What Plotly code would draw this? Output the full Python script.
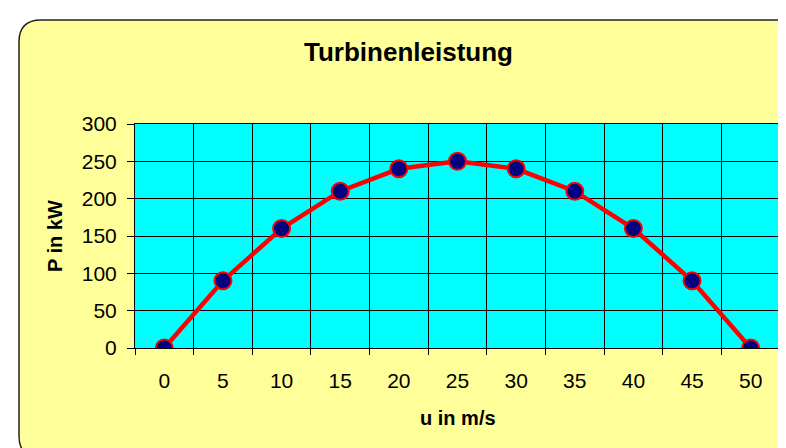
import plotly.graph_objects as go

# ---- data ----
u_values = [0, 5, 10, 15, 20, 25, 30, 35, 40, 45, 50]
p_values = [0, 90, 160, 210, 240, 250, 240, 210, 160, 90, 0]
y_ticks = [0, 50, 100, 150, 200, 250, 300]
title_text = "Turbinenleistung"
x_title = "u in m/s"
y_title = "P in kW"

# ---- layout geometry (pixels) ----
W, H = 786, 448
L, R, T, B = 127, 772, 116, 340

def px(x):
    return (x - L) / (R - L)

def py(y):
    return (B - y) / (B - T)

FONT = "Arial, Liberation Sans, sans-serif"

fig = go.Figure()
fig.add_trace(go.Scatter(
    x=u_values, y=p_values, mode="lines+markers",
    line=dict(color="#FF0000", width=4.5),
    marker=dict(size=17, color="#000080", line=dict(color="#FF0000", width=2)),
    hoverinfo="x+y", showlegend=False,
))

# rounded border rect
x0, y0, x1, y1, r = 11, 12, 790, 450, 22
pts = [
    ("M", x0 + r, y0), ("L", x1 - r, y0), ("Q", x1, y0, x1, y0 + r),
    ("L", x1, y1 - r), ("Q", x1, y1, x1 - r, y1), ("L", x0 + r, y1),
    ("Q", x0, y1, x0, y1 - r), ("L", x0, y0 + r), ("Q", x0, y0, x0 + r, y0),
]
path = ""
for p in pts:
    cmd = p[0]
    coords = p[1:]
    parts = []
    for i in range(0, len(coords), 2):
        parts.append(f"{px(coords[i]):.5f},{py(coords[i+1]):.5f}")
    path += cmd + " ".join(parts) + " "
path += "Z"

shapes = [
    dict(type="path", path=path, xref="paper", yref="paper",
         fillcolor="#FFFF99", line=dict(color="#222222", width=1.5), layer="below"),
    dict(type="rect", xref="x domain", yref="y domain", x0=0, x1=1, y0=0, y1=1,
         fillcolor="#00FFFF", line=dict(width=0), layer="below"),
]

annotations = [
    dict(text=f"<b>{x_title}</b>", xref="paper", yref="paper",
         x=px((L + R) / 2), y=py(410), xanchor="center", yanchor="middle",
         showarrow=False, font=dict(family=FONT, size=20, color="black")),
    dict(text=f"<b>{y_title}</b>", xref="paper", yref="paper",
         x=px(47), y=py(228), xanchor="center", yanchor="middle", textangle=-90,
         showarrow=False, font=dict(family=FONT, size=20, color="black")),
    dict(text=f"<b>{title_text}</b>", xref="paper", yref="paper",
         x=px(400), y=py(44), xanchor="center", yanchor="middle",
         showarrow=False, font=dict(family=FONT, size=26, color="black")),
]

fig.update_layout(
    width=W, height=H,
    margin=dict(l=L, r=W - R, t=T, b=H - B, pad=0),
    paper_bgcolor="white",
    plot_bgcolor="#00FFFF",
    shapes=shapes,
    annotations=annotations,
    font=dict(family=FONT, size=21, color="black"),
    xaxis=dict(
        range=[-2.5, 52.5], tickmode="array", tickvals=u_values,
        ticktext=[str(v) for v in u_values],
        showgrid=False, ticks="", ticklabelstandoff=14,
        showline=True, linecolor="black", linewidth=1, mirror=True,
        zeroline=False,
        minor=dict(tickmode="array",
                   tickvals=[v + 2.5 for v in u_values[:-1]] + [-2.5, 52.5],
                   ticks="outside", ticklen=6, tickcolor="black", tickwidth=1,
                   showgrid=True, gridcolor="black", gridwidth=1),
        tickfont=dict(family=FONT, size=21),
        fixedrange=True,
    ),
    yaxis=dict(
        range=[0, 300], tickmode="array", tickvals=y_ticks,
        showgrid=True, gridcolor="black", gridwidth=1,
        ticks="outside", ticklen=7, tickcolor="black", tickwidth=1,
        ticklabelstandoff=6,
        showline=True, linecolor="black", linewidth=1, mirror=True,
        zeroline=False,
        tickfont=dict(family=FONT, size=21),
        fixedrange=True,
    ),
)

fig.write_html("out.html")
